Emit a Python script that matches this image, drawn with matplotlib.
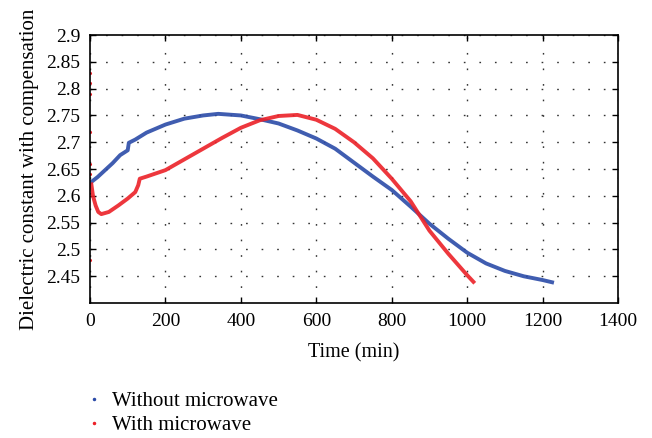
import numpy as np
import matplotlib.pyplot as plt
from matplotlib.lines import Line2D

# values
t_without = [0, 20, 40, 60, 80, 100, 103, 120, 150, 200, 250, 300, 340, 400, 450, 500,
             550, 600, 650, 700, 750, 800, 850, 900, 950, 1000, 1050, 1100, 1150, 1200, 1230]
eps_without = [2.624, 2.635, 2.648, 2.661, 2.676, 2.685, 2.699, 2.705, 2.718, 2.733, 2.744,
               2.750, 2.753, 2.750, 2.743, 2.735, 2.722, 2.707, 2.688, 2.662, 2.636, 2.611,
               2.580, 2.548, 2.520, 2.494, 2.474, 2.460, 2.450, 2.443, 2.438]

t_with = [3, 8, 15, 22, 30, 50, 75, 100, 120, 128, 132, 150, 200, 250, 300, 350, 400, 450,
          500, 550, 600, 650, 700, 750, 800, 850, 900, 950, 1000, 1020]
eps_with = [2.625, 2.600, 2.582, 2.570, 2.566, 2.570, 2.582, 2.595, 2.607, 2.620, 2.632,
            2.636, 2.648, 2.668, 2.688, 2.708, 2.727, 2.741, 2.749, 2.751, 2.742, 2.725,
            2.700, 2.670, 2.632, 2.590, 2.535, 2.492, 2.452, 2.437]

# stray readings at the very start of the microwave run
t_with_start = [0, 0, 1, 1, 0, 1, 0]
eps_with_start = [2.83, 2.81, 2.79, 2.72, 2.66, 2.64, 2.48]

blue = '#2b4ba8'
red = '#ec2128'

plt.rcParams['font.family'] = ['Liberation Serif', 'DejaVu Serif']

fig = plt.figure(figsize=(6.52, 4.38), dpi=100)
ax = fig.add_axes([0.138, 0.308, 0.810, 0.612])

ax.plot(t_without, eps_without, '-', color=blue, lw=2.8, alpha=0.9, solid_capstyle='butt')
ax.plot(t_with, eps_with, '-', color=red, lw=2.8, alpha=0.9, solid_capstyle='butt')
ax.plot(t_with_start, eps_with_start, '.', color=red, ms=2.5)

ax.set_xlim(0, 1400)
ax.set_ylim(2.4, 2.9)
ax.set_xticks(np.arange(0, 1401, 200))
ax.set_yticks(np.arange(2.45, 2.901, 0.05))
ax.set_yticklabels(['2.45', '2.5', '2.55', '2.6', '2.65', '2.7', '2.75', '2.8', '2.85', '2.9'])
ax.tick_params(direction='in', length=4, width=1, top=True, right=True, labelsize=14, pad=7)
for s in ax.spines.values():
    s.set_linewidth(1.2)
ax.grid(True, color='#333333', linestyle=(0, (1.2, 10)), lw=1.0)

ax.set_xlabel('Time (min)', fontsize=14.5, labelpad=10)
ax.set_ylabel('Dielectric constant with compensation', fontsize=15, labelpad=5)

handles = [Line2D([], [], marker='.', ls='none', color=blue, ms=3),
           Line2D([], [], marker='.', ls='none', color=red, ms=3)]
fig.legend(handles, ['Without microwave', 'With microwave'], loc='upper left',
           bbox_to_anchor=(0.115, 0.125), frameon=False, fontsize=15,
           handlelength=1.0, handletextpad=0.4, labelspacing=0.2, borderaxespad=0)

fig.savefig('out.png', dpi=100)
